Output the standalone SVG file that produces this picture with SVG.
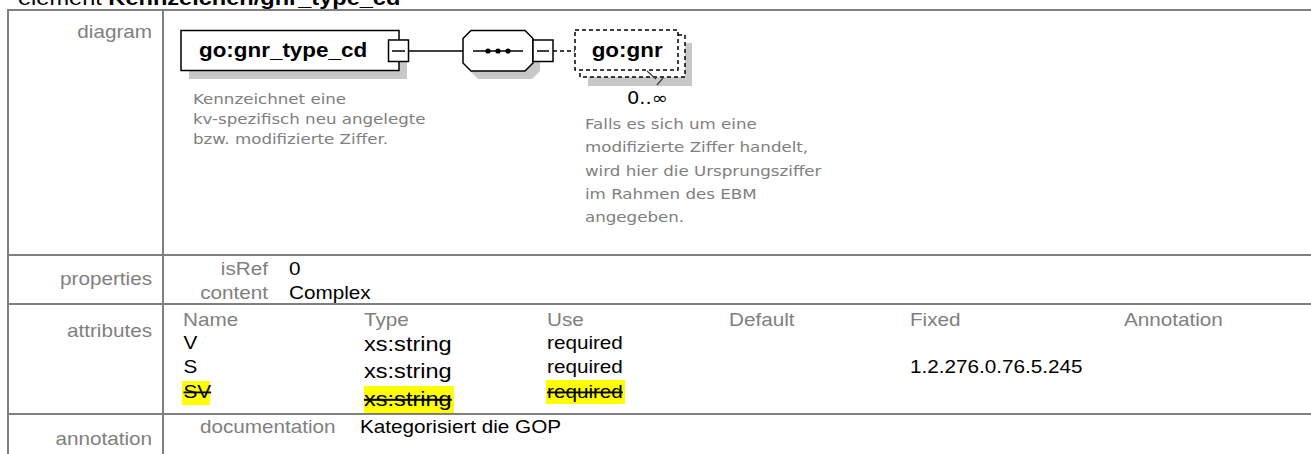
<svg xmlns="http://www.w3.org/2000/svg" width="1311" height="454" viewBox="0 0 1311 454">
<style>
.t{font-family:"Liberation Sans",Arial,sans-serif;font-size:18px}
.g{fill:#808080}
.k{fill:#000}
.r{text-anchor:end}
.px{font-family:"DejaVu Sans",Verdana,sans-serif;font-size:14.5px;fill:#808080}
.nm{font-family:"Liberation Sans",Arial,sans-serif;font-size:19.5px;font-weight:bold;fill:#000}
.grid{stroke:#808080;stroke-width:2;fill:none}
.box{fill:#fff;stroke:#000;stroke-width:1.5}
.dbox{fill:#fff;stroke:#000;stroke-width:1.5;stroke-dasharray:4 3}
.sh{fill:#c8c8c8}
.ln{stroke:#000;stroke-width:1.5;fill:none}
.hl{fill:#ffff00}
.st{text-decoration:line-through}
</style>
<rect width="1311" height="454" fill="#fff"/>
<!-- title -->
<g transform="scale(1.15,1)">
<text x="15.65" y="4.5" style="font-family:'Liberation Sans',Arial,sans-serif;font-size:20.5px" fill="#000">element <tspan font-weight="bold">Kennzeichen/gnr_type_cd</tspan></text>
</g>
<!-- table grid -->
<g class="grid">
<line x1="8" y1="10" x2="1311" y2="10"/>
<line x1="8" y1="255" x2="1311" y2="255"/>
<line x1="8" y1="304" x2="1311" y2="304"/>
<line x1="8" y1="414" x2="1311" y2="414"/>
<line x1="8" y1="9" x2="8" y2="454"/>
<line x1="163" y1="9" x2="163" y2="454"/>
</g>
<!-- highlights -->
<rect class="hl" x="182" y="381" width="28" height="24"/>
<rect class="hl" x="364" y="386" width="90" height="27"/>
<rect class="hl" x="546" y="380" width="79" height="24"/>
<!-- table text -->
<g transform="scale(1.15,1)" class="t">
<text class="g r" x="132.17" y="38">diagram</text>
<text class="g r" x="132.17" y="285.5">properties</text>
<text class="g r" x="132.17" y="337">attributes</text>
<text class="g r" x="132.17" y="445">annotation</text>
<text class="g r" x="233.04" y="275">isRef</text>
<text class="k" x="251.3" y="275">0</text>
<text class="g r" x="233.04" y="299.5">content</text>
<text class="k" x="251.3" y="299.5">Complex</text>
<text class="g" x="159.13" y="326">Name</text>
<text class="g" x="316.52" y="326">Type</text>
<text class="g" x="475.65" y="326">Use</text>
<text class="g" x="633.9" y="326">Default</text>
<text class="g" x="791.3" y="326">Fixed</text>
<text class="g" x="977.4" y="326">Annotation</text>
<text class="k" x="159.6" y="349">V</text>
<text class="k" x="316.52" y="351" style="font-size:20.5px">xs:string</text>
<text class="k" x="475.65" y="349">required</text>
<text class="k" x="159.6" y="373.5">S</text>
<text class="k" x="316.52" y="378.5" style="font-size:20.5px">xs:string</text>
<text class="k" x="475.65" y="373.5">required</text>
<text class="k" x="791.3" y="373.5">1.2.276.0.76.5.245</text>
<text class="k st" x="159.6" y="398">SV</text>
<text class="k st" x="316.52" y="406" style="font-size:20.5px">xs:string</text>
<text class="k st" x="475.65" y="398">required</text>
<text class="g" x="173.9" y="433">documentation</text>
<text class="k" x="313" y="433">Kategorisiert die GOP</text>
</g>
<!-- connectors -->
<g id="connectors">
<line class="ln" x1="409" y1="51" x2="463" y2="51"/>
<line class="ln" x1="553" y1="51" x2="575" y2="51" stroke-dasharray="4 3"/>
</g>
<!-- element node -->
<g id="node-gnr_type_cd">
<rect class="sh" x="189" y="39" width="218" height="40"/>
<rect class="box" x="181" y="30.5" width="218" height="40"/>
<g transform="scale(1.15,1)">
<text class="nm" x="173.04" y="57.5">go:gnr_type_cd</text>
<text class="px" x="167.8" y="104">Kennzeichnet eine</text>
<text class="px" x="167.8" y="124">kv-spezifisch neu angelegte</text>
<text class="px" x="167.8" y="144">bzw. modifizierte Ziffer.</text>
</g>
<rect class="box" x="388.5" y="40" width="20" height="21.5"/>
<line class="ln" x1="392" y1="51" x2="405" y2="51"/>
</g>
<!-- sequence compositor -->
<g id="node-sequence">
<path class="sh" d="M478,38 H532 L540,46 V71 L532,79 H478 L470,71 V46 Z"/>
<path class="box" d="M471,30.5 H525 L533,38.5 V63 L525,71 H471 L463,63 V38.5 Z"/>
<line class="ln" x1="473" y1="51" x2="523" y2="51"/>
<circle cx="488" cy="51" r="2.6" fill="#000"/>
<circle cx="498" cy="51" r="2.6" fill="#000"/>
<circle cx="508" cy="51" r="2.6" fill="#000"/>
<rect class="box" x="533" y="40" width="20" height="21.5"/>
<line class="ln" x1="537" y1="51" x2="549" y2="51"/>
</g>
<!-- go:gnr node -->
<g id="node-gnr">
<rect class="sh" x="588" y="43" width="104" height="43"/>
<rect class="dbox" x="580" y="35" width="105" height="42"/>
<rect class="dbox" x="575" y="30" width="103" height="40"/>
<path d="M647,71 L656,79 M663,78 L657,85" stroke="#404040" stroke-width="1.3" fill="none"/>
<g transform="scale(1.15,1)">
<text class="nm" x="514.5" y="57.5">go:gnr</text>
<text x="563" y="104.5" text-anchor="middle" style="font-family:'DejaVu Sans',Verdana,sans-serif;font-size:17px;fill:#000">0..∞</text>
<text class="px" x="508.7" y="129">Falls es sich um eine</text>
<text class="px" x="508.7" y="152.3">modifizierte Ziffer handelt,</text>
<text class="px" x="508.7" y="175.6">wird hier die Ursprungsziffer</text>
<text class="px" x="508.7" y="199">im Rahmen des EBM</text>
<text class="px" x="508.7" y="222.3">angegeben.</text>
</g>
</g>
</svg>
